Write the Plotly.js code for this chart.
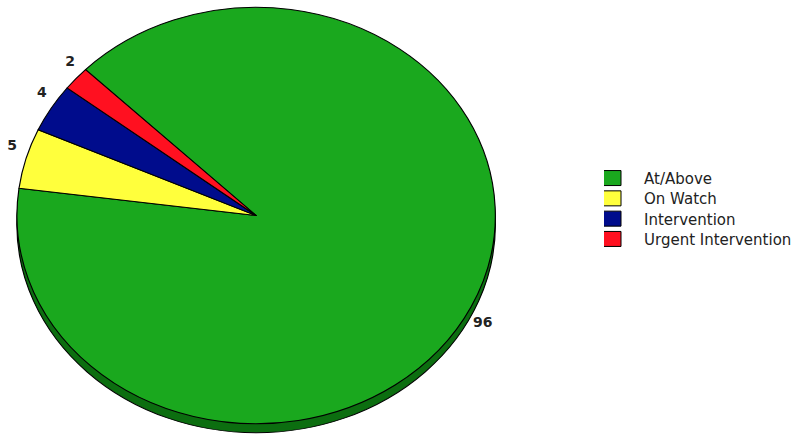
<!DOCTYPE html>
<html>
<head>
<meta charset="utf-8">
<script src="https://cdn.plot.ly/plotly-3.0.1.min.js"></script>
<style>
  html, body { margin: 0; padding: 0; background: #fff; }
  #chart { width: 797px; height: 436px; }
</style>
</head>
<body>
<div id="chart"></div>
<script>
// ---- data ----
const categories = ['At/Above', 'On Watch', 'Intervention', 'Urgent Intervention'];
const counts = [96, 5, 4, 2];
const sliceColors = ['#1aa81e', '#ffff3c', '#000c8c', '#ff1020'];

// ---- geometry (pixels) ----
const W = 797, H = 436;
const cx = 256.5, cy = 215.5, ry = 208.5, rx = 239.5;
const shadowDrop = 9;
const sx = rx / ry;
const ROT = -45.5;            // first slice starts here (clockwise)
const LABEL_R = 1.075;        // label distance, in radii
const LABEL_SHIFT = -2.5;     // label angular offset, degrees
const LEGEND_ROW = 20.3;      // legend row pitch, px

function domainFor(dy) {
  return {
    x: [(cx - ry) / W, (cx + ry) / W],
    y: [1 - (cy + dy + ry) / H, 1 - (cy + dy - ry) / H]
  };
}

const labelFont = { family: 'DejaVu Sans, Verdana, sans-serif', size: 14, color: '#222', weight: 'bold' };

const shadow = {
  type: 'pie',
  values: [1],
  labels: ['shadow'],
  sort: false,
  marker: { colors: ['#0c6e10'], line: { color: '#000', width: 1 } },
  textinfo: 'none',
  hoverinfo: 'skip',
  showlegend: false,
  domain: domainFor(shadowDrop)
};

const main = {
  type: 'pie',
  values: counts,
  labels: categories,
  sort: false,
  direction: 'clockwise',
  rotation: ROT,
  marker: { colors: sliceColors, line: { color: '#000', width: 1 } },
  textinfo: 'value',
  textposition: 'outside',
  textfont: labelFont,
  outsidetextfont: labelFont,
  hoverinfo: 'label+value',
  domain: domainFor(0)
};

const layout = {
  width: W,
  height: H,
  margin: { l: 0, r: 0, t: 0, b: 0, pad: 0 },
  paper_bgcolor: '#fff',
  plot_bgcolor: '#fff',
  showlegend: true,
  legend: {
    x: 605 / W,
    xanchor: 'left',
    y: 1 - 208.5 / H,
    yanchor: 'middle',
    font: { family: 'DejaVu Sans, Verdana, sans-serif', size: 15, color: '#222' },
    traceorder: 'normal',
    bgcolor: 'rgba(0,0,0,0)'
  }
};

Plotly.newPlot('chart', [shadow, main], layout, { staticPlot: true, displayModeBar: false }).then(() => {
  const pl = document.querySelector('.pielayer');
  if (pl) {
    // stretch the pie horizontally into the reference's ellipse
    pl.setAttribute('transform', `translate(${cx},0) scale(${sx},1) translate(${-cx},0)`);
    const traces = pl.querySelectorAll('.trace');
    const mainTrace = traces[traces.length - 1];
    const total = counts.reduce((a, b) => a + b, 0);
    let cum = 0;
    const mids = counts.map(v => {
      const m = (90 - ROT) - (cum + v / 2) / total * 360;
      cum += v;
      return m;
    });
    mainTrace.querySelectorAll('.slice').forEach((s, i) => {
      const t = s.querySelector('text');
      if (!t) return;
      // undo horizontal stretch for the text itself
      const b = t.getBBox();
      const bx = b.x + b.width / 2, by = b.y + b.height / 2;
      const tr = t.getAttribute('transform') || '';
      t.setAttribute('transform', `${tr} translate(${bx},${by}) scale(${1 / sx},1) translate(${-bx},${-by})`);
      // place label centre along the slice's mid-angle, like the reference
      const r = t.getBoundingClientRect();
      const curX = r.left + r.width / 2, curY = r.top + r.height / 2;
      const a = (mids[i] + LABEL_SHIFT) * Math.PI / 180;
      const tx = cx + LABEL_R * rx * Math.cos(a);
      const ty = cy - LABEL_R * ry * Math.sin(a);
      const dX = (tx - curX) / sx, dY = ty - curY;
      t.setAttribute('transform', `translate(${dX},${dY}) ${t.getAttribute('transform')}`);
    });
  }
  // legend: tighter rows and wider swatches
  const items = Array.from(document.querySelectorAll('.legend .traces'));
  const ys = items.map(g => {
    const m = /translate\(\s*([-\d.e]+)[ ,]+([-\d.e]+)\s*\)/.exec(g.getAttribute('transform') || '');
    return m ? [parseFloat(m[1]), parseFloat(m[2])] : [0, 0];
  });
  if (ys.length > 1) {
    const mean = ys.reduce((a, p) => a + p[1], 0) / ys.length;
    const pitch = (ys[ys.length - 1][1] - ys[0][1]) / (ys.length - 1);
    const k = LEGEND_ROW / pitch;
    items.forEach((g, i) => {
      g.setAttribute('transform', `translate(${ys[i][0]},${mean + (ys[i][1] - mean) * k})`);
    });
  }
  document.querySelectorAll('.legend .legendpoints path').forEach(p => {
    p.setAttribute('d', 'M-3,7.5H-26V-7.5H-3Z');
    p.style.strokeWidth = '1px';
    p.style.stroke = '#000';
  });
});
</script>
</body>
</html>
